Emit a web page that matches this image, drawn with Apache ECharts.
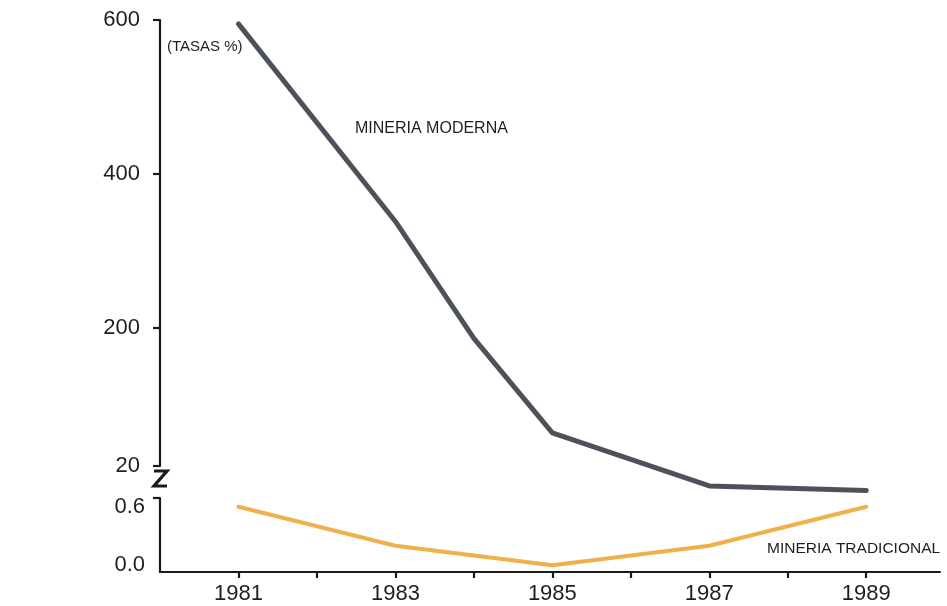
<!DOCTYPE html>
<html><head><meta charset="utf-8">
<script src="https://cdn.jsdelivr.net/npm/echarts@6/dist/echarts.min.js"></script>
<style>html,body{margin:0;padding:0;background:#fff}#c{width:947px;height:606px}</style>
</head><body><div id="c"></div>
<script>
// Data
const modernaYears = [1981, 1983, 1984, 1985, 1987, 1989];
const modernaValues = [595, 338, 186, 63, -6, -12];
const tradYears = [1981, 1983, 1985, 1987, 1989];
const tradValues = [0.6, 0.2, 0.0, 0.2, 0.6];
const xTickYears = [1981, 1982, 1983, 1984, 1985, 1986, 1987, 1988, 1989];
const xLabelYears = [1981, 1983, 1985, 1987, 1989];
const upperTicks = [20, 200, 400, 600];
const lowerLabels = [0.0, 0.6];
const lowerTop = [0.69];

const FONT = '"Liberation Sans", Arial, Helvetica, sans-serif';
const TXT = '#1e1e1e';
const chart = echarts.init(document.getElementById('c'), null, {renderer: 'canvas'});

const axisLineStyle = {color: '#1a1a1a', width: 2.2};

chart.setOption({
  backgroundColor: '#ffffff',
  animation: false,
  grid: [
    {left: 160, top: 20, width: 780, height: 446},
    {left: 160, top: 498, width: 780, height: 74}
  ],
  xAxis: [
    {type: 'value', gridIndex: 0, min: 1980, max: 1989.94, show: false},
    {type: 'value', gridIndex: 1, min: 1980, max: 1989.94, position: 'bottom',
      axisLine: {show: true, onZero: false, lineStyle: axisLineStyle},
      axisTick: {show: true, length: 6, lineStyle: {color: '#1a1a1a', width: 2.2}, customValues: xTickYears},
      axisLabel: {show: true, customValues: xLabelYears, margin: 11, fontSize: 22, color: TXT, fontFamily: FONT,
        formatter: v => String(v)},
      splitLine: {show: false}
    }
  ],
  yAxis: [
    {type: 'value', gridIndex: 0, min: 20, max: 600,
      axisLine: {show: true, onZero: false, lineStyle: axisLineStyle},
      axisTick: {show: true, length: 7, lineStyle: {color: '#1a1a1a', width: 2.2}, customValues: upperTicks},
      axisLabel: {show: true, customValues: upperTicks, margin: 20, fontSize: 22, color: TXT, fontFamily: FONT},
      splitLine: {show: false}
    },
    {type: 'value', gridIndex: 1, min: -0.07, max: 0.69,
      axisLine: {show: true, onZero: false, lineStyle: axisLineStyle},
      axisTick: {show: true, length: 7, lineStyle: {color: '#1a1a1a', width: 2.2}, customValues: lowerTop},
      axisLabel: {show: true, customValues: lowerLabels, margin: 15, fontSize: 22, color: TXT, fontFamily: FONT,
        formatter: v => Number(v).toFixed(1)},
      splitLine: {show: false}
    }
  ],
  series: [
    {name: 'MINERIA MODERNA', type: 'line', xAxisIndex: 0, yAxisIndex: 0, clip: false,
      data: modernaYears.map((y, i) => [y, modernaValues[i]]),
      symbol: 'none', lineStyle: {color: '#4d525a', width: 5, cap: 'round', join: 'round'}},
    {name: 'MINERIA TRADICIONAL', type: 'line', xAxisIndex: 1, yAxisIndex: 1, clip: false,
      data: tradYears.map((y, i) => [y, tradValues[i]]),
      symbol: 'none', lineStyle: {color: '#f0b04c', width: 4, cap: 'round', join: 'round'}}
  ],
  graphic: [
    {type: 'text', left: 167, top: 39, style: {text: '(TASAS %)', fontSize: 15, fill: TXT, fontFamily: FONT}},
    {type: 'text', left: 355, top: 121, style: {text: 'MINERIA MODERNA', fontSize: 16, fill: TXT, fontFamily: FONT}},
    {type: 'text', left: 767, top: 541, style: {text: 'MINERIA TRADICIONAL', fontSize: 15.5, fill: TXT, fontFamily: FONT}},
    {type: 'polyline', shape: {points: [[154, 471], [167, 471], [154, 486], [167, 486]]},
      style: {stroke: '#1a1a1a', lineWidth: 3.2, fill: null}}
  ]
});
</script>
</body></html>
